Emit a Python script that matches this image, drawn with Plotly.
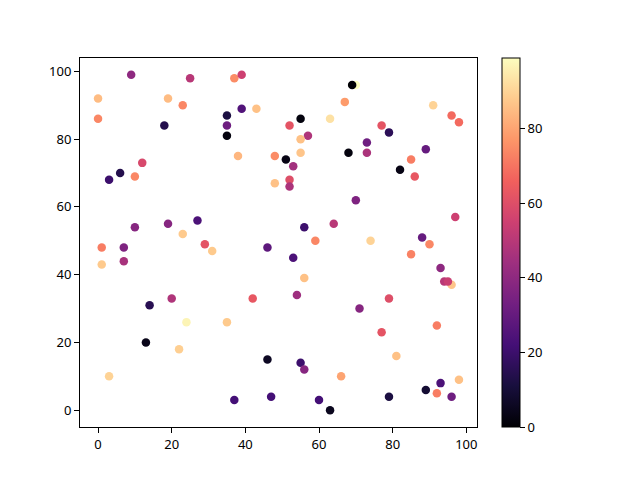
import plotly.graph_objects as go

x_vals = [0, 0, 9, 25, 37, 39, 19, 23, 39, 43, 35, 18, 35, 35, 38, 48, 12, 6, 3, 10,
          48, 10, 19, 27, 23, 29, 31, 1, 7, 1, 7, 46, 14, 20, 42, 24, 35, 13, 22, 3,
          46, 37, 47,
          70, 69, 67, 91, 96, 98, 55, 63, 52, 57, 55, 77, 79, 73, 73, 68, 55, 51, 53,
          89, 85, 82, 86, 52, 52, 70, 97, 64, 56, 59, 74, 88, 90, 85, 53, 93, 96, 94,
          95, 56, 54, 71, 79, 77, 92, 81, 66, 98, 55, 56, 60, 63, 79, 89, 93, 92, 96]
y_vals = [92, 86, 99, 98, 98, 99, 92, 90, 89, 89, 87, 84, 84, 81, 75, 75, 73, 70, 68, 69,
          67, 54, 55, 56, 52, 49, 47, 48, 48, 43, 44, 48, 31, 33, 33, 26, 26, 20, 18, 10,
          15, 3, 4,
          96, 96, 91, 90, 87, 85, 86, 86, 84, 81, 80, 84, 82, 79, 76, 76, 76, 74, 72,
          77, 74, 71, 69, 68, 66, 62, 57, 55, 54, 50, 50, 51, 49, 46, 45, 42, 37, 38,
          38, 39, 34, 30, 33, 23, 25, 16, 10, 9, 14, 12, 3, 0, 4, 6, 8, 5, 4]
c_vals = [85, 74, 40, 50, 75, 55, 85, 74, 25, 86, 12, 14, 32, 2, 84, 75, 58, 14, 20, 74,
          86, 38, 38, 24, 88, 62, 88, 72, 36, 88, 46, 28, 15, 48, 63, 97, 88, 4, 89, 90,
          6, 22, 22,
          99, 0, 78, 90, 68, 68, 2, 93, 62, 48, 86, 62, 16, 32, 47, 2, 87, 3, 45,
          30, 72, 3, 63, 60, 47, 36, 55, 50, 20, 74, 90, 30, 74, 73, 24, 40, 87, 50,
          54, 86, 44, 38, 60, 62, 72, 86, 80, 86, 20, 38, 22, 5, 12, 9, 24, 72, 32]
cbar_ticks = [0, 20, 40, 60, 80]
axis_ticks = [0, 20, 40, 60, 80, 100]

magma = ['#000004', '#180f3d', '#440f76', '#721f81', '#9e2f7f',
         '#cd4071', '#f1605d', '#fd9668', '#feca8d', '#fcfdbf']
scale = [[i / (len(magma) - 1), c] for i, c in enumerate(magma)]

fig = go.Figure(go.Scatter(
    x=x_vals, y=y_vals, mode='markers',
    marker=dict(size=8.5, color=c_vals, colorscale=scale, cmin=min(c_vals), cmax=max(c_vals),
                line=dict(width=0),
                colorbar=dict(thickness=18, len=1.0, lenmode='fraction', y=0.5, yanchor='middle',
                              x=1.062, xanchor='left', xpad=0, ypad=0,
                              outlinecolor='black', outlinewidth=1,
                              tickvals=cbar_ticks, ticks='outside', ticklen=5,
                              tickcolor='black', tickfont=dict(size=13, color='black'))),
))

axis_common = dict(showline=True, linecolor='black', linewidth=1, mirror=True,
                   ticks='outside', ticklen=5, tickcolor='black', showgrid=False,
                   zeroline=False, tickfont=dict(size=13, color='black'))
fig.update_xaxes(range=[-4.9, 102.9], tickvals=axis_ticks, **axis_common)
fig.update_yaxes(range=[-4.95, 103.95], tickvals=axis_ticks, **axis_common)

# page body adds an 8px offset; margins compensate so the plot area lands where the reference has it
fig.update_layout(width=640, height=480, margin=dict(l=72, r=171, t=50, b=61),
                  plot_bgcolor='white', paper_bgcolor='white', showlegend=False,
                  font=dict(family='Noto Sans, DejaVu Sans, sans-serif', size=13, color='black'))

fig.write_html("out.html")
